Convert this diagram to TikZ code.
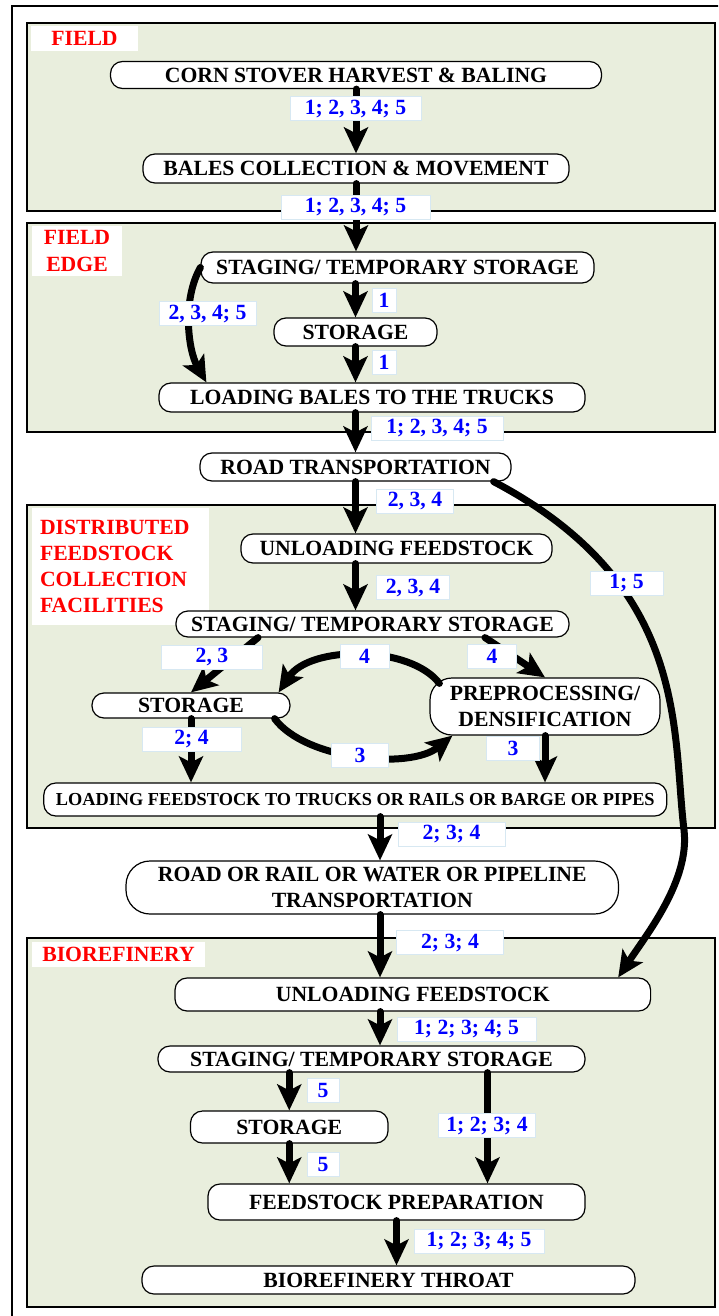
\documentclass[tikz,border=0pt]{standalone}
\usepackage{fontspec}
\setmainfont{Liberation Serif}
\usepackage{tikz}
\usetikzlibrary{arrows.meta,calc}
\definecolor{zonegreen}{RGB}{233,238,221}
\definecolor{tagline}{RGB}{215,232,242}
\newcommand{\stagefont}{\fontsize{21.7pt}{26pt}\selectfont\bfseries}
\newcommand{\smallstagefont}{\fontsize{18.3pt}{22pt}\selectfont\bfseries}
\tikzstyle{stage} = [draw,fill=white,line width=1.2pt,rounded corners=12pt,inner sep=0pt,align=center,font=\stagefont]
\tikzstyle{numtag} = [draw=tagline,line width=1pt,fill=white,text=blue,inner sep=0pt,minimum height=24pt,font=\stagefont]
\tikzstyle{zone} = [draw,line width=1.8pt,fill=zonegreen]
\tikzstyle{zonename} = [fill=white,text=red,inner sep=0pt,align=center,font=\stagefont]
\tikzstyle{flow} = [line width=7pt,line cap=round,-{Stealth[length=26pt,width=24pt,inset=6pt]}]

\begin{document}
\begin{tikzpicture}[x=1pt,y=-1pt]
    \useasboundingbox (0,0) rectangle (718,1316);
    \clip (0,0) rectangle (718,1316);
    \draw [line width=2.2pt] (12,6) rectangle (760,1360);

    \draw [zone] (27,23) rectangle (715,211);
    \draw [zone] (27,223) rectangle (715,432);
    \draw [zone] (27,505) rectangle (715,828);
    \draw [zone] (27,938) rectangle (715,1307);

    \node [zonename,minimum width=107pt,minimum height=25pt] (fieldname) at (84.5,38.5) {FIELD};
    \node [zonename,minimum width=90pt,minimum height=50pt] (edgename) at (77,251) {FIELD\\EDGE};
    \node [zonename,align=left,text width=161pt,inner xsep=8pt,minimum height=117pt] (distname) at (120.5,566.5) {DISTRIBUTED\\FEEDSTOCK\\COLLECTION\\FACILITIES};
    \node [zonename,minimum width=173pt,minimum height=25pt] (bioname) at (118.5,954.5) {BIOREFINERY};

    \node [stage,minimum width=491pt,minimum height=27pt] (harvest) at (356,75) {CORN STOVER HARVEST \& BALING};
    \node [stage,minimum width=426pt,minimum height=29pt] (bales) at (356,168.5) {BALES COLLECTION \& MOVEMENT};
    \node [stage,minimum width=393pt,minimum height=31pt] (stage1) at (397.5,267.5) {STAGING/ TEMPORARY STORAGE};
    \node [stage,minimum width=163pt,minimum height=28pt] (store1) at (355.5,332) {STORAGE};
    \node [stage,minimum width=426pt,minimum height=29pt] (load1) at (372,397.5) {LOADING BALES TO THE TRUCKS};
    \node [stage,minimum width=311pt,minimum height=28pt] (road) at (355.5,467) {ROAD TRANSPORTATION};
    \node [stage,minimum width=311pt,minimum height=29pt] (unload1) at (396.5,548.5) {UNLOADING FEEDSTOCK};
    \node [stage,minimum width=393pt,minimum height=26pt] (stage2) at (372.5,624) {STAGING/ TEMPORARY STORAGE};
    \node [stage,minimum width=198pt,minimum height=25pt] (store2) at (191,705.5) {STORAGE};
    \node [stage,minimum width=230pt,minimum height=57pt,rounded corners=22pt] (prep) at (545,706.5) {PREPROCESSING/\\DENSIFICATION};
    \node [stage,minimum width=623pt,minimum height=33pt,font=\smallstagefont] (load2) at (355.3,799.5) {LOADING FEEDSTOCK TO TRUCKS OR RAILS OR BARGE OR PIPES};
    \node [stage,minimum width=492.5pt,minimum height=53pt,rounded corners=24pt] (multi) at (372.25,887.5) {ROAD OR RAIL OR WATER OR PIPELINE\\TRANSPORTATION};
    \node [stage,minimum width=475.6pt,minimum height=33pt] (ubio) at (412.8,994.5) {UNLOADING FEEDSTOCK};
    \node [stage,minimum width=427pt,minimum height=26pt] (stage3) at (371.5,1059) {STAGING/ TEMPORARY STORAGE};
    \node [stage,minimum width=197.5pt,minimum height=32pt] (store3) at (289.25,1127) {STORAGE};
    \node [stage,minimum width=377pt,minimum height=36pt] (prep3) at (396.5,1202) {FEEDSTOCK PREPARATION};
    \node [stage,minimum width=493pt,minimum height=28pt] (throat) at (388.5,1280) {BIOREFINERY THROAT};

    \coordinate (spine) at (380,0);
    \coordinate (bend) at (684,830);

    \draw [flow] (harvest.south) -- (harvest.south |- bales.north);
    \draw [flow] (bales.south) -- (bales.south |- stage1.north);
    \draw [flow] (store1.north |- stage1.south) -- (store1.north);
    \draw [flow] (store1.south) -- (store1.south |- load1.north);
    \draw [flow] (stage1.west) .. controls (182,300) and (188,350) .. ([xshift=48pt]load1.north west);
    \draw [flow] (load1.south -| road) -- (road.north);
    \draw [flow] (road.south) -- (unload1.north -| road);
    \draw [flow] ([xshift=-18pt]road.south east) .. controls (690,585) and (672,731) .. (bend) .. controls (690,880) and (647,934) .. ([xshift=-33pt]ubio.north east);
    \draw [flow] (unload1.south -| road) -- (stage2.north -| road);
    \draw [flow] ([xshift=-114.5pt]stage2.south) -- (store2.north);
    \draw [flow] ([xshift=112.5pt]stage2.south) -- (prep.north);
    \draw [flow] ([shift={(10pt,-6pt)}]prep.north west) .. controls (410,645) and (310,645) .. ([xshift=-12pt]store2.north east);
    \draw [flow] ([xshift=-16pt]store2.south east) .. controls (305,760) and (410,770) .. ([xshift=23pt]prep.south west);
    \draw [flow] (store2.south) -- (store2.south |- load2.north);
    \draw [flow] (prep.south) -- (prep.south |- load2.north);
    \draw [flow] (load2.south -| spine) -- (multi.north -| spine);
    \draw [flow] (multi.south -| spine) -- (ubio.north -| spine);
    \draw [flow] (ubio.south -| spine) -- (stage3.north -| spine);
    \draw [flow] (store3.north |- stage3.south) -- (store3.north);
    \draw [flow] ([xshift=116pt]stage3.south) -- ([xshift=116pt]stage3.south |- prep3.north);
    \draw [flow] (store3.south) -- (store3.south |- prep3.north);
    \draw [flow] (prep3.south) -- (prep3.south |- throat.north);

    \node [numtag,minimum width=131pt] (t1) at (355.5,109) {1; 2, 3, 4; 5};
    \node [numtag,minimum width=149pt] (t2) at (355.5,207) {1; 2, 3, 4; 5};
    \node [numtag,minimum width=24pt] (t3) at (384,300.5) {1};
    \node [numtag,minimum width=24pt] (t4) at (384,362) {1};
    \node [numtag,minimum width=97pt] (t5) at (207.5,313.5) {2, 3, 4; 5};
    \node [numtag,minimum width=132pt] (t6) at (437,428) {1; 2, 3, 4; 5};
    \node [numtag,minimum width=77pt] (t7) at (415,501) {2, 3, 4};
    \node [numtag,minimum width=73.5pt] (t8) at (413,587.5) {2, 3, 4};
    \node [numtag,minimum width=73pt] (t9) at (626.5,583.5) {1; 5};
    \node [numtag,minimum width=101pt] (t10) at (212,657) {2, 3};
    \node [numtag,minimum width=49pt] (t11) at (364.5,656.5) {4};
    \node [numtag,minimum width=48.5pt] (t12) at (492,656.5) {4};
    \node [numtag,minimum width=99pt] (t13) at (191.5,739) {2; 4};
    \node [numtag,minimum width=57.5pt] (t14) at (360,755) {3};
    \node [numtag,minimum width=52.5pt] (t15) at (513,748.5) {3};
    \node [numtag,minimum width=107pt] (t16) at (451.5,834) {2; 3; 4};
    \node [numtag,minimum width=107.6pt] (t17) at (450,942.5) {2; 3; 4};
    \node [numtag,minimum width=139pt] (t18) at (466.5,1029) {1; 2; 3; 4; 5};
    \node [numtag,minimum width=32pt] (t19) at (323,1090) {5};
    \node [numtag,minimum width=32pt] (t20) at (323,1164) {5};
    \node [numtag,minimum width=97.5pt] (t21) at (487,1125.5) {1; 2; 3; 4};
    \node [numtag,minimum width=130pt] (t22) at (479,1241) {1; 2; 3; 4; 5};
\end{tikzpicture}
\end{document}
